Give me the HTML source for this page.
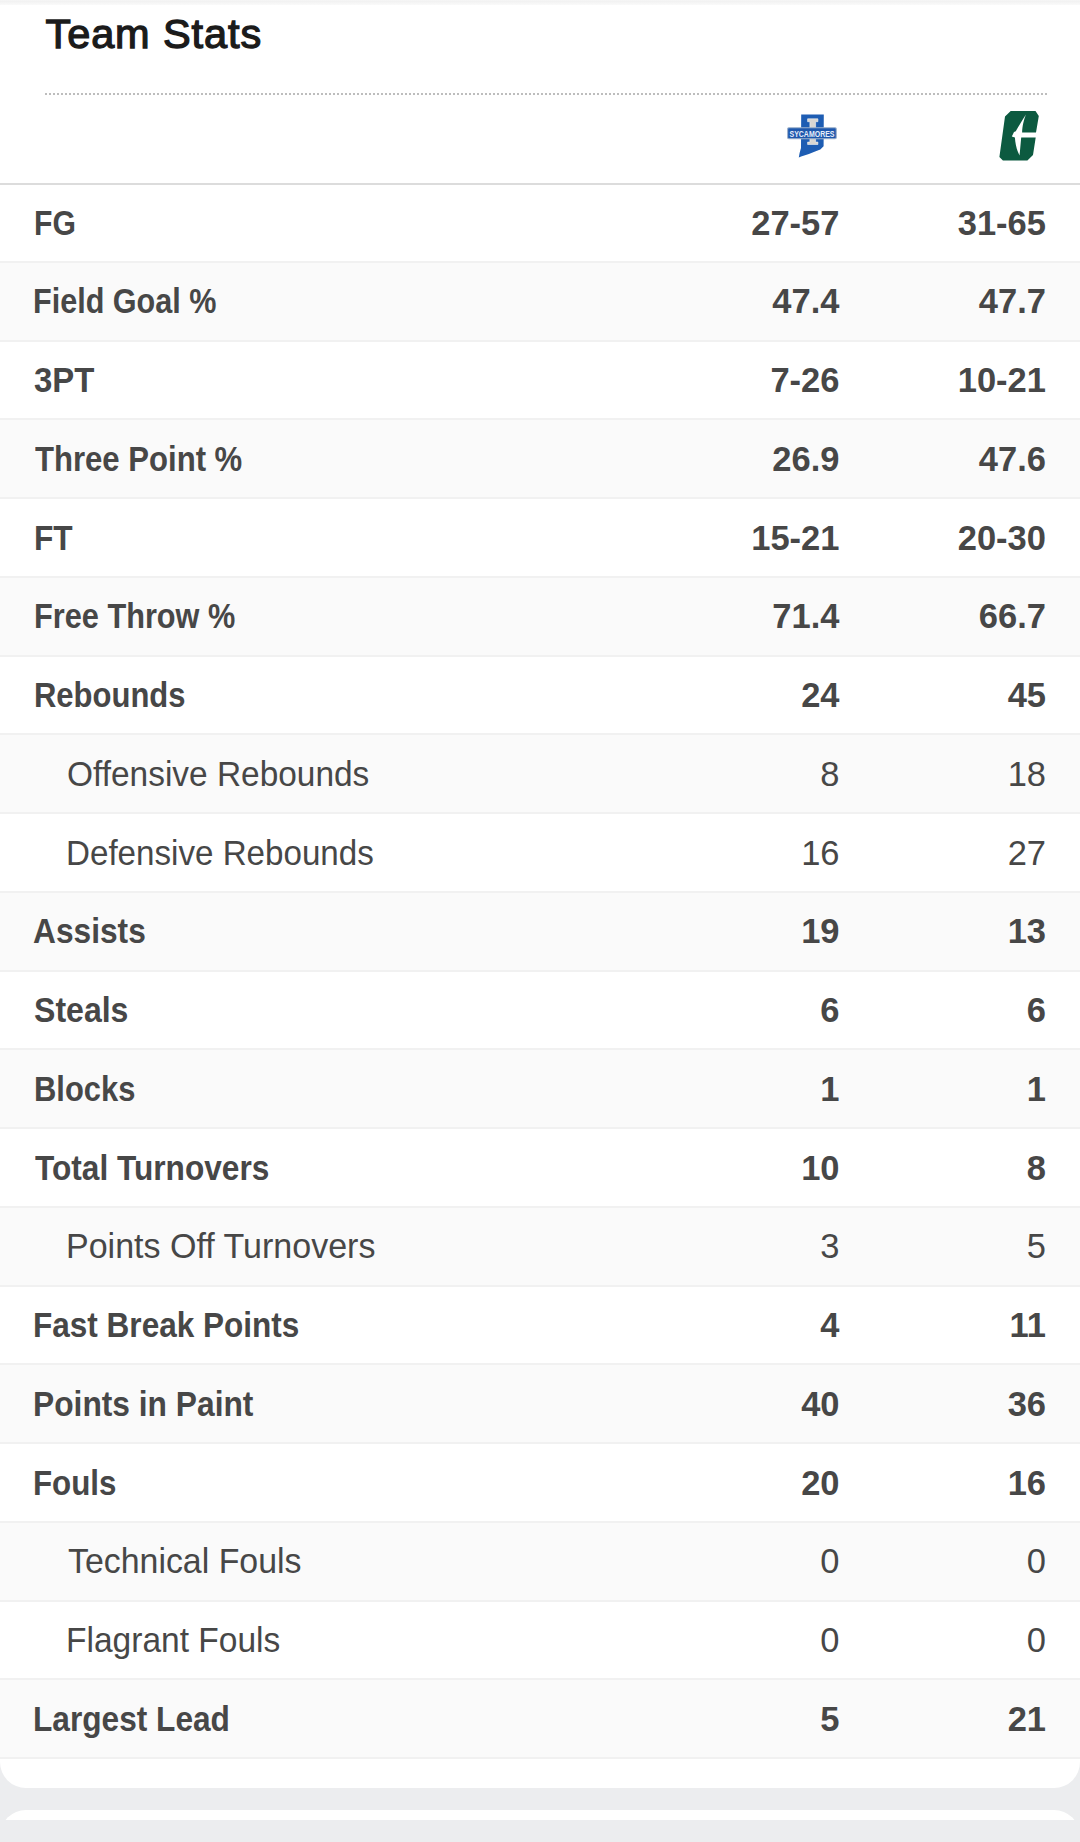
<!DOCTYPE html><html><head><meta charset="utf-8"><title>Team Stats</title><style>*{margin:0;padding:0;box-sizing:border-box}
html,body{width:1080px;height:1842px;overflow:hidden;background:#ecedef}
body{position:relative;font-family:"Liberation Sans",Arial,sans-serif}
.topshade{position:absolute;left:0;top:0;width:1080px;height:5px;background:linear-gradient(#f6f6f6,#f2f2f2 30%,#fafafa);z-index:2}
.card{position:absolute;left:0;top:0;width:1080px;height:1788px;background:#fff;border-radius:0 0 26px 26px;overflow:hidden}
.title{position:absolute;left:45.5px;top:9.5px;font-size:41.5px;font-weight:normal;-webkit-text-stroke:1.3px #1b1b1b;letter-spacing:0.9px;color:#1b1b1b;line-height:48px;white-space:nowrap}
.dots{position:absolute;left:45px;top:93px;width:1002px;height:2px;background:repeating-linear-gradient(90deg,#bdbdbd 0 2px,transparent 2px 4px)}
.head{position:absolute;z-index:1;left:0;top:100px;width:1080px;height:85px;border-bottom:2px solid #dcdcdc}
.head svg{position:absolute}
.row{position:absolute;left:0;width:1080px;height:78.75px;border-bottom:2px solid #f1f1f1;background:#fff;color:#474747;font-size:34.5px;font-weight:bold}
.row.alt{background:#fafafa}
.row span{position:absolute;top:1px;line-height:76px;white-space:nowrap;transform-origin:0 0}
.lab{left:34px}
.sub .lab{left:68px}
.sub{font-weight:normal}
.v1{right:240.5px}
.v2{right:34px}
.card2{position:absolute;left:0;top:1810px;width:1080px;height:60px;background:#fff;border-radius:26px 26px 0 0}
.bot{position:absolute;left:0;top:1820px;width:1080px;height:22px;background:#ecedef}
</style></head><body>
<div class="topshade"></div>
<div class="card">
<div class="title">Team Stats</div>
<div class="dots"></div>
<div class="head"><svg class="logos" width="1080" height="84" viewBox="0 100 1080 84" style="left:0;top:0">
<path d="M801.2 114.6 L823.8 114.6 L823.6 146.3 L820.3 149.4 L815.1 151.5 L808.9 154 L801.1 156.6 L798.8 157.6 L799.6 153 L801 148 Z" fill="#1e5db3"/>
<path d="M807.6 118.8 H817.9 V121.7 H815.6 V142.1 H817.9 V144.5 H807.6 V142.1 H809.9 V121.7 H807.6 Z" fill="#d9d6d2" stroke="#f4f4f4" stroke-width="0.6"/>
<rect x="787.6" y="127.8" width="48.7" height="11" rx="1.2" fill="#1f58ad" stroke="#9fb2cc" stroke-width="1.1"/>
<text x="812" y="136.8" text-anchor="middle" font-family="Liberation Sans, sans-serif" font-weight="bold" font-size="9.6" fill="#e6eefa" textLength="45" lengthAdjust="spacingAndGlyphs">SYCAMORES</text>
<path d="M1005 116.4 L1010.7 111 L1035.5 111 L1038.8 115.9 L1036 132.4 L1022.1 132.4 C1022.3 126 1024 119 1026 114.5 C1023 119 1019.5 125 1015.8 131.2 L1014 132.1 L1011.8 136.6 L1014.9 137.4 C1015.3 144 1016.8 150 1019.5 155.5 C1020.2 150 1020.6 143 1021.2 137.4 L1035.7 137.4 L1033 155 L1027.4 160.6 L1002.9 160.6 L999.4 156.9 Z" fill="#0c5a40"/>
</svg>

</div>
<div class="row" style="top:184.00px"><span class="lab" style="left:33.8px;transform:scaleX(0.873)">FG</span><span class="v1">27-57</span><span class="v2">31-65</span></div>
<div class="row alt" style="top:262.75px"><span class="lab" style="left:33.4px;transform:scaleX(0.886);top:0">Field Goal %</span><span class="v1" style="top:0">47.4</span><span class="v2" style="top:0">47.7</span></div>
<div class="row" style="top:341.50px"><span class="lab" style="left:34.2px;transform:scaleX(0.955);top:0">3PT</span><span class="v1" style="top:0">7-26</span><span class="v2" style="top:0">10-21</span></div>
<div class="row alt" style="top:420.25px"><span class="lab" style="left:35.2px;transform:scaleX(0.901)">Three Point %</span><span class="v1">26.9</span><span class="v2">47.6</span></div>
<div class="row" style="top:499.00px"><span class="lab" style="left:33.7px;transform:scaleX(0.918)">FT</span><span class="v1">15-21</span><span class="v2">20-30</span></div>
<div class="row alt" style="top:577.75px"><span class="lab" style="left:34.2px;transform:scaleX(0.890);top:0">Free Throw %</span><span class="v1" style="top:0">71.4</span><span class="v2" style="top:0">66.7</span></div>
<div class="row" style="top:656.50px"><span class="lab" style="left:34.1px;transform:scaleX(0.898);top:0">Rebounds</span><span class="v1" style="top:0">24</span><span class="v2" style="top:0">45</span></div>
<div class="row alt sub" style="top:735.25px"><span class="lab" style="left:66.6px;transform:scaleX(0.969)">Offensive Rebounds</span><span class="v1">8</span><span class="v2">18</span></div>
<div class="row sub" style="top:814.00px"><span class="lab" style="left:65.6px;transform:scaleX(0.961)">Defensive Rebounds</span><span class="v1">16</span><span class="v2">27</span></div>
<div class="row alt" style="top:892.75px"><span class="lab" style="left:33.2px;transform:scaleX(0.919);top:0">Assists</span><span class="v1" style="top:0">19</span><span class="v2" style="top:0">13</span></div>
<div class="row" style="top:971.50px"><span class="lab" style="left:34.1px;transform:scaleX(0.929);top:0">Steals</span><span class="v1" style="top:0">6</span><span class="v2" style="top:0">6</span></div>
<div class="row alt" style="top:1050.25px"><span class="lab" style="left:34.0px;transform:scaleX(0.896)">Blocks</span><span class="v1">1</span><span class="v2">1</span></div>
<div class="row" style="top:1129.00px"><span class="lab" style="left:35.0px;transform:scaleX(0.917)">Total Turnovers</span><span class="v1">10</span><span class="v2">8</span></div>
<div class="row alt sub" style="top:1207.75px"><span class="lab" style="left:65.5px;transform:scaleX(0.986);top:0">Points Off Turnovers</span><span class="v1" style="top:0">3</span><span class="v2" style="top:0">5</span></div>
<div class="row" style="top:1286.50px"><span class="lab" style="left:33.2px;transform:scaleX(0.914);top:0">Fast Break Points</span><span class="v1" style="top:0">4</span><span class="v2" style="top:0">11</span></div>
<div class="row alt" style="top:1365.25px"><span class="lab" style="left:33.2px;transform:scaleX(0.920)">Points in Paint</span><span class="v1">40</span><span class="v2">36</span></div>
<div class="row" style="top:1444.00px"><span class="lab" style="left:33.2px;transform:scaleX(0.907)">Fouls</span><span class="v1">20</span><span class="v2">16</span></div>
<div class="row alt sub" style="top:1522.75px"><span class="lab" style="left:67.5px;transform:scaleX(0.982);top:0">Technical Fouls</span><span class="v1" style="top:0">0</span><span class="v2" style="top:0">0</span></div>
<div class="row sub" style="top:1601.50px"><span class="lab" style="left:65.6px;transform:scaleX(0.972);top:0">Flagrant Fouls</span><span class="v1" style="top:0">0</span><span class="v2" style="top:0">0</span></div>
<div class="row alt" style="top:1680.25px"><span class="lab" style="left:33.2px;transform:scaleX(0.917)">Largest Lead</span><span class="v1">5</span><span class="v2">21</span></div>
</div>
<div class="card2"></div><div class="bot"></div>
</body></html>
